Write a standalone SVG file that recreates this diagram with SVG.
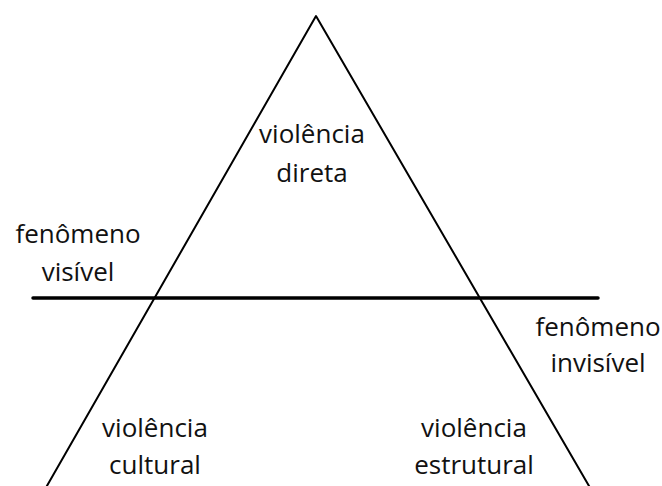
<svg xmlns="http://www.w3.org/2000/svg" width="662" height="486" viewBox="0 0 662 486">
<style>
.t{font-family:"Open Sans","Noto Sans",sans-serif;font-size:26px;fill:#111;text-anchor:middle}
.ln{stroke:#000;fill:none;stroke-linecap:round;stroke-linejoin:round}
</style>
<rect width="662" height="486" fill="#fff"/>
<g id="connectors">
<path class="ln" stroke-width="2" d="M40,498 L316,16 L596,498"/>
<line class="ln" stroke-width="3.5" stroke-linecap="butt" x1="33" y1="298" x2="598" y2="298"/>
</g>
<g id="direta"><text class="t" x="312" y="143">violência</text><text class="t" x="312" y="182">direta</text></g>
<g id="visivel"><text class="t" x="78" y="243">fenômeno</text><text class="t" x="78" y="281">visível</text></g>
<g id="invisivel"><text class="t" x="598" y="336">fenômeno</text><text class="t" x="598" y="372">invisível</text></g>
<g id="cultural"><text class="t" x="155" y="437">violência</text><text class="t" x="155" y="474">cultural</text></g>
<g id="estrutural"><text class="t" x="474" y="437">violência</text><text class="t" x="474" y="474">estrutural</text></g>
</svg>
